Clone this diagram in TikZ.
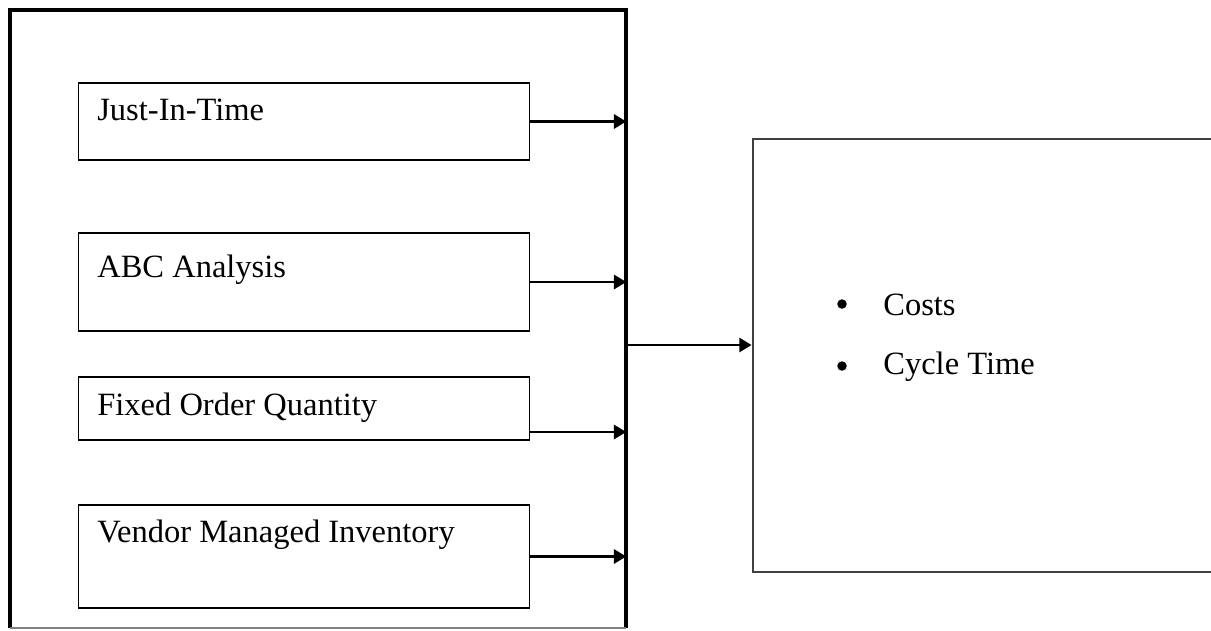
\documentclass[tikz,border=0pt]{standalone}
\usepackage{fontspec}
\setmainfont{Liberation Serif}
\usepackage{tikz}
\usetikzlibrary{arrows.meta}

\tikzset{
    techbox/.style={draw, line width=0.6pt, minimum width=9.04cm, inner sep=0pt},
    techlabel/.style={anchor=west, inner sep=0pt, font=\fontsize{18.5}{22}\selectfont},
    dot/.style={circle, fill, inner sep=0pt, minimum size=0.19cm},
    feed/.style={line width=1.5pt, -{Triangle[length=7pt,width=8pt]}}
}

\begin{document}
\begin{tikzpicture}[x=0.02cm,y=-0.02cm]
            \useasboundingbox (0,0) rectangle (1211,630);
            % Frame
            \node[minimum width=12.32cm, minimum height=12.36cm, inner sep=0pt] (frame) at (318,319) {};
            \draw[line width=2.3pt] (frame.south west) -- (frame.north west) -- (frame.north east) -- (frame.south east);
            \draw[line width=1pt, gray] (frame.south west) -- (frame.south east);
            % Boxes
            \node[techbox, minimum height=1.54cm] (jit) at (304,121.5) {};
            \node[techbox, minimum height=1.96cm] (abc) at (304,282) {};
            \node[techbox, minimum height=1.26cm] (foq) at (304,408.5) {};
            \node[techbox, minimum height=2.06cm] (vmi) at (304,556.5) {};
            \node[techlabel] (jitlabel) at (97,110) {Just-In-Time};
            \node[techlabel] (abclabel) at (97,270) {ABC Analysis};
            \node[techlabel] (foqlabel) at (97,408) {Fixed Order Quantity};
            \node[techlabel] (vmilabel) at (97,535) {Vendor Managed Inventory};
            % Outcomes
            \node[draw=black!75, line width=1.1pt, minimum width=10.3cm, minimum height=8.66cm, inner sep=0pt] (outcome) at (1010,355.5) {};
            \node[dot] (costsdot) at (842,304) {};
            \node[dot] (cycledot) at (842,366) {};
            \node[techlabel] (costs) at (883,305) {Costs};
            \node[techlabel] (cycle) at (883,367) {Cycle Time};
            % Arrows
            \coordinate (foqout) at (530,432);
            \draw[feed] (jit.east) -- (jit.east -| frame.east);
            \draw[feed] (abc.east) -- (abc.east -| frame.east);
            \draw[feed] (foqout) -- (foqout -| frame.east);
            \draw[feed] (vmi.east) -- (vmi.east -| frame.east);
            \coordinate (hub) at (626,345);
            \draw[feed] (hub) -- (hub -| outcome.west);
        \end{tikzpicture}
\end{document}
